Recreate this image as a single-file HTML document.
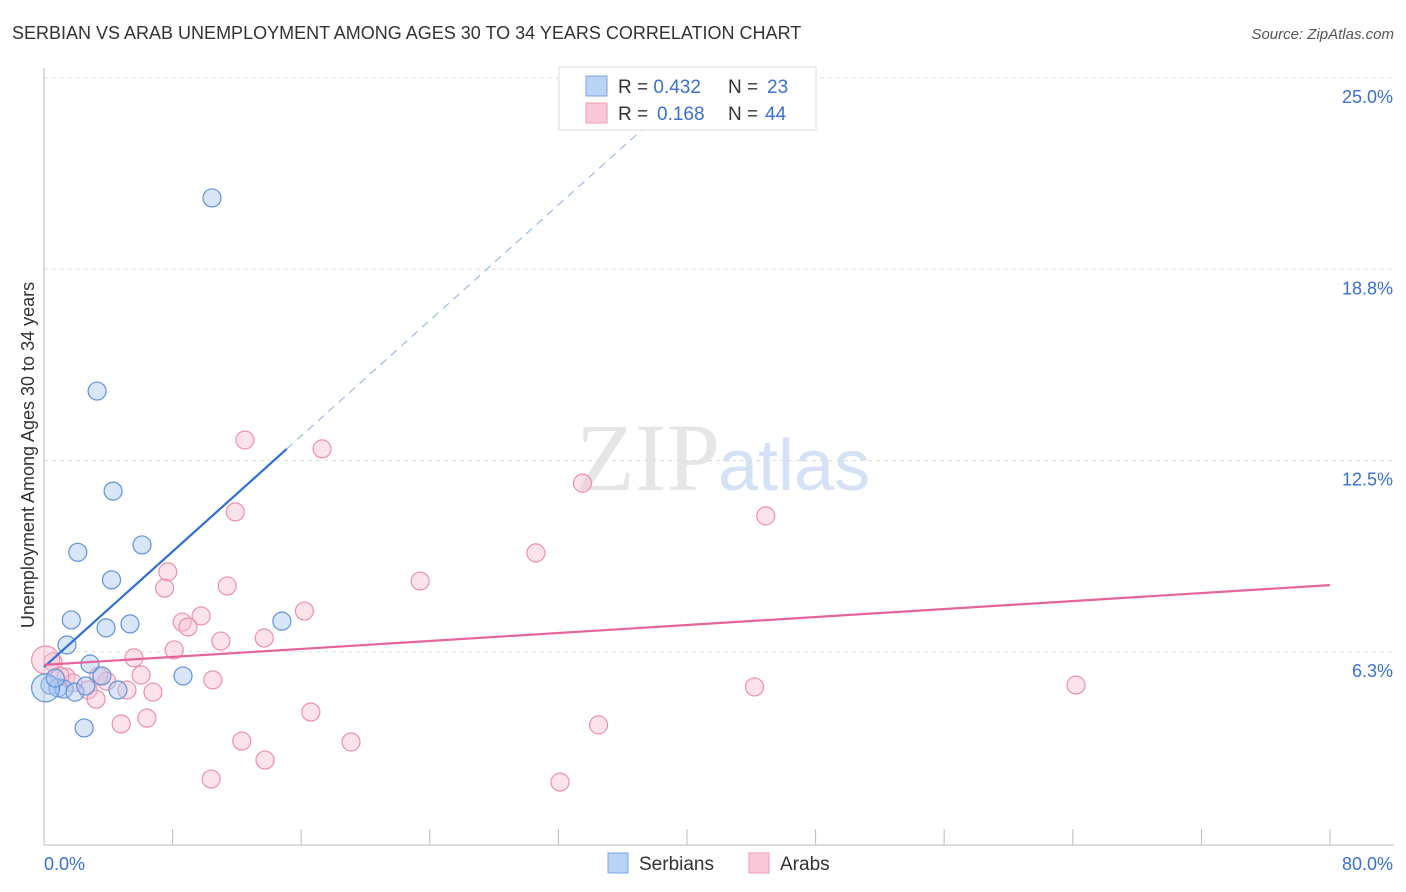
<!DOCTYPE html>
<html><head><meta charset="utf-8"><style>
body{margin:0;background:#fff;font-family:"Liberation Sans",sans-serif}
svg{display:block}
</style></head><body>
<svg id="c" width="1406" height="892">
<text x="12" y="39" font-size="18" fill="#333">SERBIAN VS ARAB UNEMPLOYMENT AMONG AGES 30 TO 34 YEARS CORRELATION CHART</text>
<text x="1394" y="39" font-size="15" fill="#555" font-style="italic" text-anchor="end">Source: ZipAtlas.com</text>
<text x="720" y="490" font-size="96" fill="#e6e6e6" font-family="Liberation Serif" text-anchor="end">ZIP</text>
<text x="718" y="490" font-size="72" fill="#d5e2f5">atlas</text>
<text transform="translate(34,455) rotate(-90)" font-size="18" fill="#333" text-anchor="middle">Unemployment Among Ages 30 to 34 years</text>
<g id="axes"></g><g id="marks"></g>
<g>
<rect x="559" y="67" width="257" height="63" fill="#fff" stroke="#ddd"/>
<rect x="586" y="76" width="21" height="20" fill="#b9d3f5" stroke="#7aa6e0"/>
<rect x="586" y="103" width="21" height="20" fill="#fac8d8" stroke="#f09ab6"/>
<text x="618" y="93" font-size="19" fill="#333">R = <tspan fill="#3a70d0">0.432</tspan><tspan x="728">N = </tspan><tspan x="767" fill="#3a70d0">23</tspan></text>
<text x="618" y="120" font-size="19" fill="#333">R = <tspan x="657" fill="#3a70d0">0.168</tspan><tspan x="728">N = </tspan><tspan x="765" fill="#3a70d0">44</tspan></text>
</g>
<g>
<rect x="608" y="853" width="20" height="20" fill="#b9d3f5" stroke="#7aa6e0"/>
<text x="639" y="870" font-size="19" fill="#333">Serbians</text>
<rect x="749" y="853" width="20" height="20" fill="#fac8d8" stroke="#f09ab6"/>
<text x="780" y="870" font-size="19" fill="#333">Arabs</text>
</g>
</svg>
<script>
const yTicks=[6.3,12.5,18.8,25.0];
const yTickLabels=["6.3%","12.5%","18.8%","25.0%"];
const xTickCount=10;
const serbX=[10.45,3.3,4.3,2.1,6.1,4.2,1.7,3.86,5.35,14.8,1.43,2.86,3.6,8.65,0.37,0.87,1.24,1.93,2.6,4.6,2.5,0.1,0.7];
const serbY=[21.08,14.77,11.5,9.5,9.74,8.6,7.29,7.03,7.16,7.25,6.47,5.85,5.46,5.46,5.16,5.07,5.03,4.93,5.13,5.0,3.76,5.07,5.39];
const arabX=[12.5,17.3,33.5,44.9,11.9,30.6,7.7,23.4,11.4,7.5,16.2,9.77,8.6,8.96,11.0,13.7,8.1,5.6,0.56,6.04,10.5,3.9,1.37,3.4,5.16,6.78,2.74,44.2,64.2,3.24,6.4,4.8,16.6,34.5,12.3,19.1,13.75,10.4,32.1,1.8,1.0,0.1];
const arabY=[13.17,12.88,11.76,10.69,10.82,9.48,8.86,8.56,8.4,8.33,7.58,7.42,7.22,7.06,6.6,6.7,6.31,6.05,5.92,5.49,5.33,5.29,5.42,5.46,5.0,4.93,5.0,5.1,5.16,4.7,4.08,3.89,4.28,3.86,3.33,3.3,2.71,2.09,1.99,5.23,5.46,5.98];
const serbTrend=[5.75,0.472];
const arabTrend=[5.82,0.0326];
const X=v=>44+v*16.075, Y=v=>843-v*30.6;
const NS="http://www.w3.org/2000/svg";
function mk(p,t,a){const e=document.createElementNS(NS,t);for(const k in a)e.setAttribute(k,a[k]);p.appendChild(e);return e;}
const ax=document.getElementById('axes'), mg=document.getElementById('marks');
yTicks.forEach((t,i)=>{const yy=Y(t===25?25:t===6.3?6.25:t===18.8?18.75:t);
const g=mk(ax,'line',{x1:44,x2:1394,y1:yy,y2:yy,stroke:'#ddd','stroke-dasharray':'4,4'});


const l=mk(ax,'text',{x:1393,y:yy+25,'font-size':18,fill:'#3a70d0','text-anchor':'end'});l.textContent=yTickLabels[i];

});
mk(ax,'line',{x1:44,x2:44,y1:68,y2:845,stroke:'#bbb'});
mk(ax,'line',{x1:44,x2:1394,y1:845,y2:845,stroke:'#bbb'});
for(let i=1;i<=xTickCount;i++){const t=mk(ax,'line',{x1:X(i*8),x2:X(i*8),y1:829,y2:845,stroke:'#bbb'});

}
const xl=mk(ax,'text',{x:44,y:870,'font-size':18,fill:'#3a70d0'});xl.textContent='0.0%';


const xr=mk(ax,'text',{x:1393,y:870,'font-size':18,fill:'#3a70d0','text-anchor':'end'});xr.textContent='80.0%';


function pts(xs,ys,fill,stroke,name){xs.forEach((x,i)=>{const r=(x<0.3)?14:9;
const c=mk(mg,'circle',{cx:X(x),cy:Y(ys[i]),r:r,fill:fill,'fill-opacity':0.45,stroke:stroke,'stroke-width':1.2});

});}
pts(arabX,arabY,'#f8bfd2','#ec8fb0','arab-point');
pts(serbX,serbY,'#a9c8f0','#5f93d8','serbian-point');
const st=mk(mg,'line',{x1:X(0),y1:Y(serbTrend[0]),x2:X(15.1),y2:Y(serbTrend[0]+serbTrend[1]*15.1),stroke:'#2f6fd6','stroke-width':2.2});


const sd=mk(mg,'line',{x1:X(15.1),y1:Y(serbTrend[0]+serbTrend[1]*15.1),x2:X(38.5),y2:Y(serbTrend[0]+serbTrend[1]*38.5),stroke:'#9bbbe8','stroke-width':1.2,'stroke-dasharray':'8,6'});


const at=mk(mg,'line',{x1:X(0),y1:Y(arabTrend[0]),x2:X(80),y2:Y(arabTrend[0]+arabTrend[1]*80),stroke:'#e5649a','stroke-width':2.2});


</script>
</body></html>
